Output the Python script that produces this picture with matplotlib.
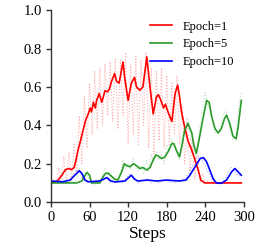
import numpy as np
import matplotlib
matplotlib.use("Agg")
import matplotlib.pyplot as plt

plt.rcParams["font.family"] = ["Liberation Serif", "DejaVu Serif"]

# smoothed curves (step, value)
red_x = [0, 9, 17, 22, 27, 32, 36, 39, 42, 46, 50, 54, 58, 61, 63, 66, 69, 71, 75, 79,
         84, 88, 91, 94, 99, 102, 106, 112, 115, 120, 125, 130, 133, 138, 143, 149, 154, 159, 164, 167,
         171, 175, 178, 182, 188, 193, 197, 200, 203, 208, 213, 219, 224, 229, 233, 239, 296]
red_y = [0.10, 0.106, 0.14, 0.167, 0.175, 0.17, 0.18, 0.22, 0.27, 0.32,
         0.375, 0.427, 0.46, 0.49, 0.47, 0.52, 0.49, 0.53, 0.566, 0.52,
         0.58, 0.575, 0.59, 0.627, 0.67, 0.63, 0.62, 0.73, 0.64, 0.53,
         0.62, 0.65, 0.60, 0.583, 0.60, 0.757, 0.60, 0.46, 0.548, 0.56,
         0.53, 0.49, 0.51, 0.47, 0.42, 0.566, 0.61, 0.55, 0.47, 0.39,
         0.32, 0.27, 0.22, 0.167, 0.115, 0.10, 0.10]

green_x = [0, 40, 48, 53, 56, 60, 63, 76, 81, 85, 89, 94, 99, 104, 110, 114, 118, 123, 128, 133,
           138, 143, 149, 154, 159, 163, 167, 172, 177, 182, 188, 191, 195, 200, 204, 208, 213, 219, 222, 226,
           230, 237, 242, 246, 250, 255, 260, 265, 270, 273, 278, 283, 288, 291, 296]
green_y = [0.10, 0.10, 0.11, 0.14, 0.155, 0.14, 0.10, 0.10, 0.132, 0.15,
           0.15, 0.135, 0.12, 0.115, 0.158, 0.20, 0.19, 0.184, 0.20, 0.19,
           0.175, 0.18, 0.167, 0.18, 0.22, 0.245, 0.24, 0.227, 0.235, 0.262,
           0.305, 0.305, 0.27, 0.236, 0.30, 0.375, 0.41, 0.36, 0.30, 0.253,
           0.32, 0.445, 0.53, 0.52, 0.445, 0.384, 0.36, 0.384, 0.436, 0.453,
           0.41, 0.344, 0.33, 0.39, 0.53]

blue_x = [0, 19, 30, 37, 44, 48, 53, 58, 75, 81, 87, 93, 100, 115, 120, 125, 130, 135, 150, 165,
          180, 200, 210, 216, 224, 232, 237, 242, 247, 252, 257, 265, 273, 281, 286, 291, 296]
blue_y = [0.11, 0.106, 0.115, 0.14, 0.163, 0.15, 0.115, 0.106, 0.11, 0.118,
          0.128, 0.11, 0.105, 0.11, 0.125, 0.14, 0.12, 0.11, 0.115, 0.11,
          0.115, 0.11, 0.115, 0.14, 0.184, 0.227, 0.232, 0.21, 0.167, 0.123,
          0.10, 0.098, 0.115, 0.158, 0.175, 0.158, 0.14]

# raw (unsmoothed) values, sampled every 4 steps
raw_x = list(range(0, 300, 4))
red_raw = [0.10, 0.11, 0.10, 0.18, 0.10, 0.24, 0.12, 0.26, 0.11, 0.30,
           0.14, 0.45, 0.20, 0.55, 0.28, 0.62, 0.35, 0.68, 0.38, 0.70,
           0.40, 0.72, 0.45, 0.73, 0.42, 0.75, 0.38, 0.74, 0.45, 0.78,
           0.30, 0.72, 0.35, 0.76, 0.30, 0.74, 0.40, 0.78, 0.28, 0.70,
           0.25, 0.68, 0.32, 0.70, 0.28, 0.66, 0.30, 0.62, 0.35, 0.66,
           0.30, 0.50, 0.20, 0.42, 0.15, 0.35, 0.12, 0.25, 0.10, 0.15,
           0.10, 0.11, 0.10, 0.10, 0.10, 0.10, 0.10, 0.10, 0.10, 0.10,
           0.10, 0.10, 0.10, 0.10, 0.10]
green_raw = [0.10, 0.10, 0.11, 0.10, 0.10, 0.12, 0.10, 0.10, 0.11, 0.10,
             0.12, 0.18, 0.12, 0.16, 0.14, 0.12, 0.10, 0.09, 0.11, 0.10,
             0.13, 0.18, 0.14, 0.16, 0.11, 0.12, 0.10, 0.16, 0.22, 0.17,
             0.20, 0.17, 0.23, 0.18, 0.16, 0.19, 0.15, 0.22, 0.16, 0.25,
             0.21, 0.26, 0.22, 0.25, 0.20, 0.30, 0.26, 0.33, 0.28, 0.25,
             0.22, 0.34, 0.40, 0.44, 0.36, 0.28, 0.22, 0.30, 0.40, 0.50,
             0.57, 0.50, 0.47, 0.40, 0.36, 0.37, 0.40, 0.46, 0.48, 0.42,
             0.35, 0.32, 0.36, 0.50, 0.57]
blue_raw = [0.11, 0.10, 0.11, 0.10, 0.11, 0.10, 0.12, 0.11, 0.13, 0.15,
            0.17, 0.16, 0.14, 0.11, 0.10, 0.11, 0.10, 0.11, 0.10, 0.12,
            0.12, 0.13, 0.12, 0.10, 0.11, 0.10, 0.11, 0.11, 0.10, 0.12,
            0.14, 0.15, 0.12, 0.11, 0.10, 0.11, 0.11, 0.12, 0.11, 0.10,
            0.11, 0.11, 0.10, 0.11, 0.12, 0.11, 0.10, 0.11, 0.10, 0.11,
            0.11, 0.12, 0.12, 0.14, 0.16, 0.19, 0.22, 0.24, 0.23, 0.21,
            0.19, 0.16, 0.13, 0.11, 0.10, 0.10, 0.10, 0.11, 0.13, 0.16,
            0.18, 0.17, 0.15, 0.14, 0.13]

labels = ["Epoch=1", "Epoch=5", "Epoch=10"]
colors = ["#ff0000", "#2a9a2a", "#0000ff"]

fig = plt.figure(figsize=(2.6, 2.48), dpi=100)
ax = fig.add_axes([0.196, 0.185, 0.742, 0.774])

for raw, c in zip([red_raw, green_raw, blue_raw], colors):
    ax.plot(raw_x, raw, ls=":", lw=0.8, color=c, alpha=0.3)

for xs, ys, c, lab in zip([red_x, green_x, blue_x], [red_y, green_y, blue_y], colors, labels):
    ax.plot(xs, ys, color=c, lw=1.2, label=lab)

ax.set_xlim(0, 300)
ax.set_ylim(0, 1.0)
ax.set_xticks([0, 60, 120, 180, 240, 300])
ax.set_yticks([0.0, 0.2, 0.4, 0.6, 0.8, 1.0])
ax.set_yticklabels(["0.0", "0.2", "0.4", "0.6", "0.8", "1.0"])
ax.tick_params(direction="out", length=3.5, width=1, labelsize=10.5, pad=3, color="#333333")
for s in ["top", "right"]:
    ax.spines[s].set_visible(False)
for s in ["left", "bottom"]:
    ax.spines[s].set_color("#333333")
    ax.spines[s].set_linewidth(1)

ax.set_xlabel("Steps", fontsize=12.5, labelpad=1)

ax.legend(loc="upper left", bbox_to_anchor=(0.515, 0.945), frameon=False, fontsize=9,
          handlelength=1.75, handletextpad=0.8, labelspacing=0.45, borderpad=0, borderaxespad=0)

fig.savefig("out.png", dpi=100)
